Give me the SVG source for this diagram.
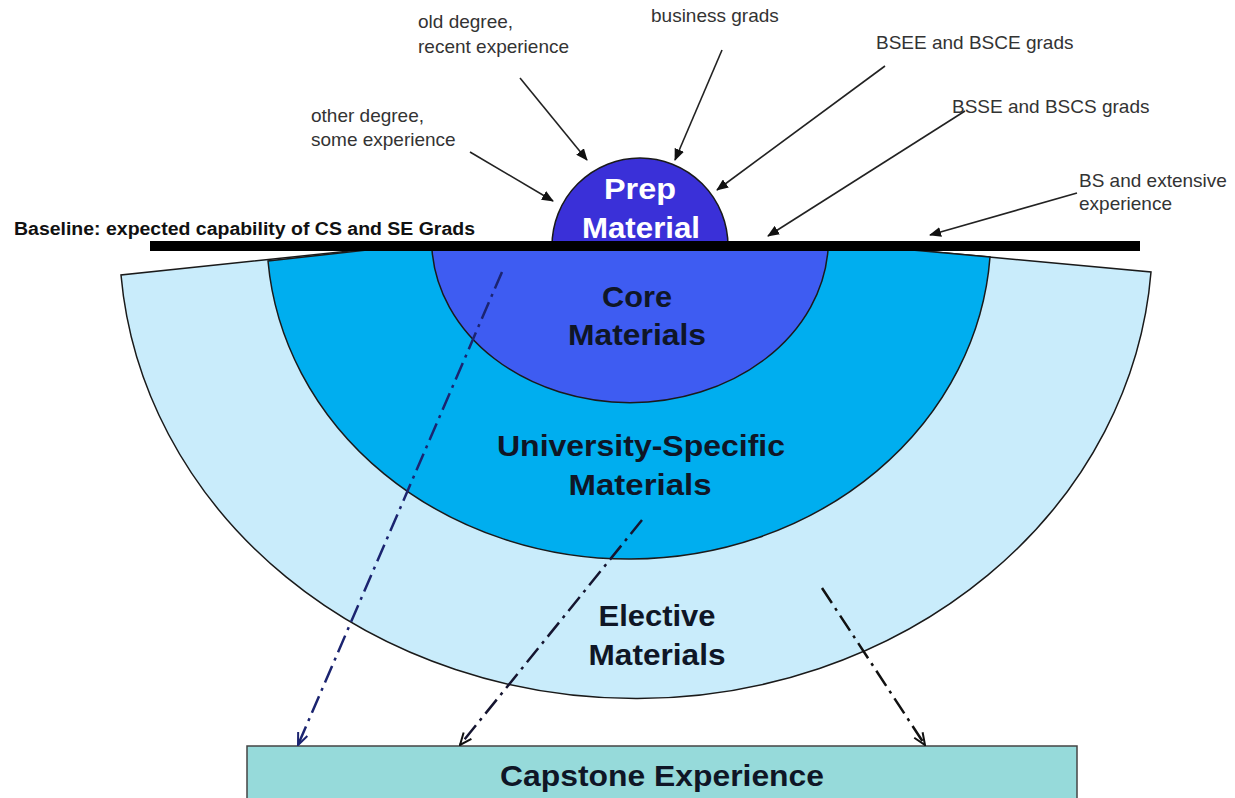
<svg xmlns="http://www.w3.org/2000/svg" width="1235" height="798" viewBox="0 0 1235 798">
<style>
.lbl{font-family:"Liberation Sans",Arial,sans-serif;font-size:19px;fill:#333}
.big{font-family:"Liberation Sans",Arial,sans-serif;font-size:30px;font-weight:bold;fill:#0f1626;text-anchor:middle}
.wt{fill:#fff}
.shape{stroke:#1a1a1a;stroke-width:1.5}
.arr{stroke:#222;stroke-width:1.6;fill:none;marker-end:url(#tri)}
.dd{stroke-width:2.5;fill:none;stroke-dasharray:18 6 3 6}
</style>
<defs>
<marker id="tri" markerWidth="12" markerHeight="10" refX="11" refY="5" orient="auto" markerUnits="userSpaceOnUse">
<path d="M0,0 L12,5 L0,10 Z" fill="#111"/>
</marker>
<marker id="vNavy" markerWidth="14" markerHeight="14" refX="13" refY="7" orient="auto" markerUnits="userSpaceOnUse">
<path d="M1,2 L13,7 L1,12" fill="none" stroke="#1b2470" stroke-width="2"/>
</marker>
<marker id="vBlack" markerWidth="14" markerHeight="14" refX="13" refY="7" orient="auto" markerUnits="userSpaceOnUse">
<path d="M1,2 L13,7 L1,12" fill="none" stroke="#111" stroke-width="2"/>
</marker>
</defs>
<rect width="1235" height="798" fill="#fff"/>

<g id="elective">
<path class="shape" d="M359,250 L121,275 A516.5 460 0 0 0 1151,272 L914,250 Z" fill="#c9ecfb"/>
<text class="big" x="657" y="626" textLength="117" lengthAdjust="spacingAndGlyphs">Elective</text>
<text class="big" x="657" y="665" textLength="137" lengthAdjust="spacingAndGlyphs">Materials</text>
</g>
<g id="university">
<path class="shape" d="M367,250 L268,261 A362 324 0 0 0 990,257 L912,250 Z" fill="#00aeef"/>
<text class="big" x="641" y="456" textLength="288" lengthAdjust="spacingAndGlyphs">University-Specific</text>
<text class="big" x="640" y="495" textLength="143" lengthAdjust="spacingAndGlyphs">Materials</text>
</g>
<g id="core">
<path class="shape" d="M432,250 A198.4 163 0 0 0 828,250 Z" fill="#3e5cf2"/>
<text class="big" x="637" y="307" textLength="70" lengthAdjust="spacingAndGlyphs">Core</text>
<text class="big" x="637" y="345" textLength="138" lengthAdjust="spacingAndGlyphs">Materials</text>
</g>
<g id="prep">
<path class="shape" d="M552,246 A88 88 0 0 1 728,246 Z" fill="#3a30d8"/>
<text class="big wt" x="640" y="199" textLength="72" lengthAdjust="spacingAndGlyphs">Prep</text>
<text class="big wt" x="641" y="238" textLength="118" lengthAdjust="spacingAndGlyphs">Material</text>
</g>
<g id="baseline">
<rect x="150" y="241" width="990" height="10" fill="#000"/>
<text x="14" y="235" font-family="Liberation Sans,Arial,sans-serif" font-size="18" font-weight="bold" fill="#111" textLength="461" lengthAdjust="spacingAndGlyphs">Baseline: expected capability of CS and SE Grads</text>
</g>
<g id="capstone">
<rect x="247" y="746" width="830" height="70" fill="#96dada" stroke="#444" stroke-width="1.5"/>
<text class="big" x="662" y="786" textLength="324" lengthAdjust="spacingAndGlyphs">Capstone Experience</text>
</g>

<g id="labels">
<text class="lbl" x="418" y="28">old degree,</text>
<text class="lbl" x="418" y="53">recent experience</text>
<text class="lbl" x="651" y="22">business grads</text>
<text class="lbl" x="311" y="122">other degree,</text>
<text class="lbl" x="311" y="146">some experience</text>
<text class="lbl" x="876" y="49">BSEE and BSCE grads</text>
<text class="lbl" x="952" y="113">BSSE and BSCS grads</text>
<text class="lbl" x="1079" y="187">BS and extensive</text>
<text class="lbl" x="1079" y="210">experience</text>
</g>

<g id="connectors">
<line class="arr" x1="470" y1="152" x2="553" y2="201"/>
<line class="arr" x1="520" y1="78" x2="587" y2="160"/>
<line class="arr" x1="722" y1="50" x2="675" y2="160"/>
<line class="arr" x1="885" y1="66" x2="717" y2="190"/>
<line class="arr" x1="965" y1="111" x2="768" y2="236"/>
<line class="arr" x1="1077" y1="193" x2="930" y2="235"/>
<line class="dd" x1="502" y1="272" x2="298" y2="745" stroke="#1b2470" marker-end="url(#vNavy)"/>
<line class="dd" x1="642" y1="520" x2="460" y2="745" stroke="#151530" marker-end="url(#vBlack)"/>
<line class="dd" x1="822" y1="588" x2="925" y2="745" stroke="#111" marker-end="url(#vBlack)"/>
</g>
</svg>
